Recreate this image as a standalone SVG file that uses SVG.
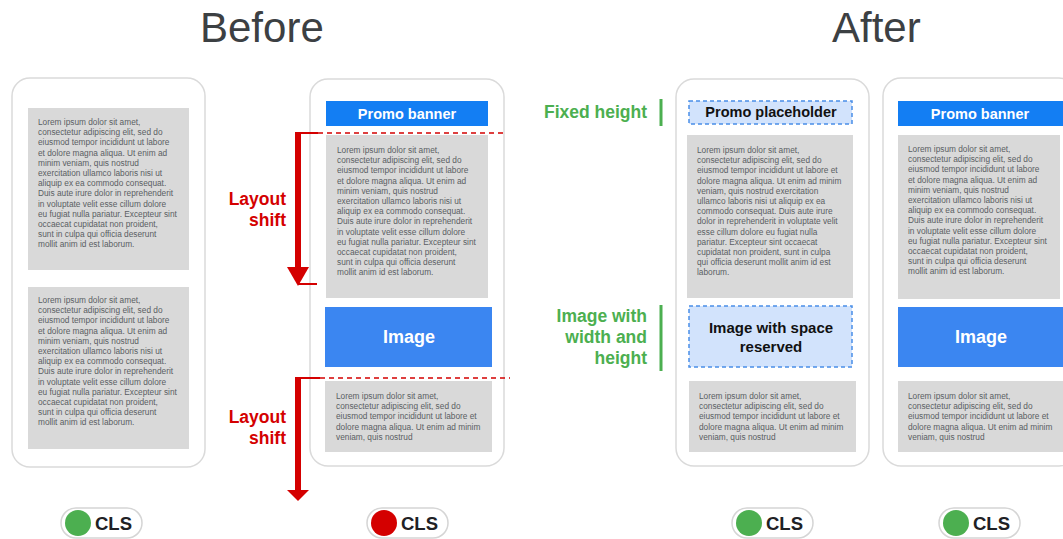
<svg xmlns="http://www.w3.org/2000/svg" width="1063" height="539" viewBox="0 0 1063 539">
<style>
.bg{fill:#ffffff}
.phone{fill:#ffffff;stroke:#dadada;stroke-width:1.5}
.gray{fill:#d9d9d9}
.lorem{font-family:"Liberation Sans",Arial,sans-serif;font-size:8.3px;fill:#5a5e63}
.title{font-family:"Liberation Sans",Arial,sans-serif;font-size:42px;fill:#3c4043}
.promo{fill:#137ef3}
.image{fill:#3b86f1}
.wlabel{font-family:"Liberation Sans",Arial,sans-serif;font-weight:bold;fill:#ffffff;text-anchor:middle}
.ph{fill:#d2e3fc;stroke:#4a8fe7;stroke-width:1.5;stroke-dasharray:4 3}
.phlabel{font-family:"Liberation Sans",Arial,sans-serif;font-weight:bold;fill:#111111;text-anchor:middle}
.red{font-family:"Liberation Sans",Arial,sans-serif;font-weight:bold;font-size:17.5px;fill:#d40000;text-anchor:end}
.green{font-family:"Liberation Sans",Arial,sans-serif;font-weight:bold;font-size:17.5px;fill:#4caf50;text-anchor:end}
.gbar{fill:#4caf50}
.pill{fill:#ffffff;stroke:#d5d5d5;stroke-width:1.5}
.cls{font-family:"Liberation Sans",Arial,sans-serif;font-weight:bold;font-size:18.5px;fill:#202124}
.arrowfill{fill:#d40000}
.solid{stroke:#d40000;stroke-width:2;fill:none}
.dash{stroke:#d40000;stroke-width:1.5;fill:none;stroke-dasharray:5 4}
</style>
<rect class="bg" x="0" y="0" width="1063" height="539"/>

<text id="title-before" class="title" x="200" y="42">Before</text>
<text id="title-after" class="title" x="832" y="42">After</text>

<g id="phone1">
  <rect class="phone" x="12" y="78" width="193" height="389" rx="18"/>
  <rect class="gray" x="28" y="108" width="161" height="162"/>
  <text class="lorem" x="38" y="125"><tspan x="38" dy="0">Lorem ipsum dolor sit amet,</tspan><tspan x="38" dy="10.2">consectetur adipiscing elit, sed do</tspan><tspan x="38" dy="10.2">eiusmod tempor incididunt ut labore</tspan><tspan x="38" dy="10.2">et dolore magna aliqua. Ut enim ad</tspan><tspan x="38" dy="10.2">minim veniam, quis nostrud</tspan><tspan x="38" dy="10.2">exercitation ullamco laboris nisi ut</tspan><tspan x="38" dy="10.2">aliquip ex ea commodo consequat.</tspan><tspan x="38" dy="10.2">Duis aute irure dolor in reprehenderit</tspan><tspan x="38" dy="10.2">in voluptate velit esse cillum dolore</tspan><tspan x="38" dy="10.2">eu fugiat nulla pariatur. Excepteur sint</tspan><tspan x="38" dy="10.2">occaecat cupidatat non proident,</tspan><tspan x="38" dy="10.2">sunt in culpa qui officia deserunt</tspan><tspan x="38" dy="10.2">mollit anim id est laborum.</tspan></text>
  <rect class="gray" x="28" y="287" width="161" height="162"/>
  <text class="lorem" x="38" y="303"><tspan x="38" dy="0">Lorem ipsum dolor sit amet,</tspan><tspan x="38" dy="10.2">consectetur adipiscing elit, sed do</tspan><tspan x="38" dy="10.2">eiusmod tempor incididunt ut labore</tspan><tspan x="38" dy="10.2">et dolore magna aliqua. Ut enim ad</tspan><tspan x="38" dy="10.2">minim veniam, quis nostrud</tspan><tspan x="38" dy="10.2">exercitation ullamco laboris nisi ut</tspan><tspan x="38" dy="10.2">aliquip ex ea commodo consequat.</tspan><tspan x="38" dy="10.2">Duis aute irure dolor in reprehenderit</tspan><tspan x="38" dy="10.2">in voluptate velit esse cillum dolore</tspan><tspan x="38" dy="10.2">eu fugiat nulla pariatur. Excepteur sint</tspan><tspan x="38" dy="10.2">occaecat cupidatat non proident,</tspan><tspan x="38" dy="10.2">sunt in culpa qui officia deserunt</tspan><tspan x="38" dy="10.2">mollit anim id est laborum.</tspan></text>
</g>

<g id="phone2">
  <rect class="phone" x="310" y="79" width="194" height="387" rx="18"/>
  <rect class="promo" x="326" y="101" width="162" height="25"/>
  <text class="wlabel" x="407" y="119" font-size="14.5">Promo banner</text>
  <rect class="gray" x="326" y="135" width="162" height="163"/>
  <text class="lorem" x="337" y="153"><tspan x="337" dy="0">Lorem ipsum dolor sit amet,</tspan><tspan x="337" dy="10.2">consectetur adipiscing elit, sed do</tspan><tspan x="337" dy="10.2">eiusmod tempor incididunt ut labore</tspan><tspan x="337" dy="10.2">et dolore magna aliqua. Ut enim ad</tspan><tspan x="337" dy="10.2">minim veniam, quis nostrud</tspan><tspan x="337" dy="10.2">exercitation ullamco laboris nisi ut</tspan><tspan x="337" dy="10.2">aliquip ex ea commodo consequat.</tspan><tspan x="337" dy="10.2">Duis aute irure dolor in reprehenderit</tspan><tspan x="337" dy="10.2">in voluptate velit esse cillum dolore</tspan><tspan x="337" dy="10.2">eu fugiat nulla pariatur. Excepteur sint</tspan><tspan x="337" dy="10.2">occaecat cupidatat non proident,</tspan><tspan x="337" dy="10.2">sunt in culpa qui officia deserunt</tspan><tspan x="337" dy="10.2">mollit anim id est laborum.</tspan></text>
  <rect class="image" x="325" y="307" width="167" height="60"/>
  <text class="wlabel" x="409" y="343" font-size="18">Image</text>
  <rect class="gray" x="325" y="381" width="167" height="71"/>
  <text class="lorem" x="336" y="399"><tspan x="336" dy="0">Lorem ipsum dolor sit amet,</tspan><tspan x="336" dy="10.2">consectetur adipiscing elit, sed do</tspan><tspan x="336" dy="10.2">eiusmod tempor incididunt ut labore et</tspan><tspan x="336" dy="10.2">dolore magna aliqua. Ut enim ad minim</tspan><tspan x="336" dy="10.2">veniam, quis nostrud</tspan></text>
</g>

<g id="phone3">
  <rect class="phone" x="676" y="79" width="193" height="387" rx="18"/>
  <rect class="ph" x="689" y="101" width="163" height="23"/>
  <text class="phlabel" x="771" y="117" font-size="14.5">Promo placeholder</text>
  <rect class="gray" x="687" y="135" width="166" height="163"/>
  <text class="lorem" x="697" y="153"><tspan x="697" dy="0">Lorem ipsum dolor sit amet,</tspan><tspan x="697" dy="10.2">consectetur adipiscing elit, sed do</tspan><tspan x="697" dy="10.2">eiusmod tempor incididunt ut labore et</tspan><tspan x="697" dy="10.2">dolore magna aliqua. Ut enim ad minim</tspan><tspan x="697" dy="10.2">veniam, quis nostrud exercitation</tspan><tspan x="697" dy="10.2">ullamco laboris nisi ut aliquip ex ea</tspan><tspan x="697" dy="10.2">commodo consequat. Duis aute irure</tspan><tspan x="697" dy="10.2">dolor in reprehenderit in voluptate velit</tspan><tspan x="697" dy="10.2">esse cillum dolore eu fugiat nulla</tspan><tspan x="697" dy="10.2">pariatur. Excepteur sint occaecat</tspan><tspan x="697" dy="10.2">cupidatat non proident, sunt in culpa</tspan><tspan x="697" dy="10.2">qui officia deserunt mollit anim id est</tspan><tspan x="697" dy="10.2">laborum.</tspan></text>
  <rect class="ph" x="689" y="306" width="163" height="61"/>
  <text class="phlabel" x="771" y="333" font-size="15"><tspan x="771" dy="0">Image with space</tspan><tspan x="771" dy="19">reserved</tspan></text>
  <rect class="gray" x="689" y="381" width="167" height="71"/>
  <text class="lorem" x="699" y="399"><tspan x="699" dy="0">Lorem ipsum dolor sit amet,</tspan><tspan x="699" dy="10.2">consectetur adipiscing elit, sed do</tspan><tspan x="699" dy="10.2">eiusmod tempor incididunt ut labore et</tspan><tspan x="699" dy="10.2">dolore magna aliqua. Ut enim ad minim</tspan><tspan x="699" dy="10.2">veniam, quis nostrud</tspan></text>
</g>

<g id="phone4">
  <rect class="phone" x="883" y="78" width="194" height="388" rx="18"/>
  <rect class="promo" x="898" y="101" width="165" height="25"/>
  <text class="wlabel" x="980" y="119" font-size="14.5">Promo banner</text>
  <rect class="gray" x="898" y="135" width="162" height="164"/>
  <text class="lorem" x="908" y="152"><tspan x="908" dy="0">Lorem ipsum dolor sit amet,</tspan><tspan x="908" dy="10.2">consectetur adipiscing elit, sed do</tspan><tspan x="908" dy="10.2">eiusmod tempor incididunt ut labore</tspan><tspan x="908" dy="10.2">et dolore magna aliqua. Ut enim ad</tspan><tspan x="908" dy="10.2">minim veniam, quis nostrud</tspan><tspan x="908" dy="10.2">exercitation ullamco laboris nisi ut</tspan><tspan x="908" dy="10.2">aliquip ex ea commodo consequat.</tspan><tspan x="908" dy="10.2">Duis aute irure dolor in reprehenderit</tspan><tspan x="908" dy="10.2">in voluptate velit esse cillum dolore</tspan><tspan x="908" dy="10.2">eu fugiat nulla pariatur. Excepteur sint</tspan><tspan x="908" dy="10.2">occaecat cupidatat non proident,</tspan><tspan x="908" dy="10.2">sunt in culpa qui officia deserunt</tspan><tspan x="908" dy="10.2">mollit anim id est laborum.</tspan></text>
  <rect class="image" x="898" y="307" width="165" height="60"/>
  <text class="wlabel" x="981" y="343" font-size="18">Image</text>
  <rect class="gray" x="898" y="381" width="165" height="71"/>
  <text class="lorem" x="908" y="399"><tspan x="908" dy="0">Lorem ipsum dolor sit amet,</tspan><tspan x="908" dy="10.2">consectetur adipiscing elit, sed do</tspan><tspan x="908" dy="10.2">eiusmod tempor incididunt ut labore et</tspan><tspan x="908" dy="10.2">dolore magna aliqua. Ut enim ad minim</tspan><tspan x="908" dy="10.2">veniam, quis nostrud</tspan></text>
</g>

<g id="label-shift1">
  <text class="red" x="286" y="205">Layout</text>
  <text class="red" x="286" y="226">shift</text>
</g>
<g id="label-shift2">
  <text class="red" x="286" y="423">Layout</text>
  <text class="red" x="286" y="444">shift</text>
</g>
<g id="label-fixed">
  <text class="green" x="647" y="118">Fixed height</text>
  <rect class="gbar" x="659.5" y="99" width="3" height="27"/>
</g>
<g id="label-image">
  <text class="green" x="647" y="322">Image with</text>
  <text class="green" x="647" y="343">width and</text>
  <text class="green" x="647" y="364">height</text>
  <rect class="gbar" x="659.5" y="305" width="3" height="66"/>
</g>

<g id="connectors">
  <line class="solid" x1="295" y1="133" x2="318" y2="133"/>
  <line class="dash" x1="318" y1="133" x2="505" y2="133"/>
  <rect class="arrowfill" x="295" y="132" width="6" height="137"/>
  <polygon class="arrowfill" points="287,267 309,267 298,286"/>
  <line class="solid" x1="298" y1="284" x2="317" y2="284" stroke-width="1.5"/>

  <line class="solid" x1="295" y1="378" x2="320" y2="378"/>
  <line class="dash" x1="320" y1="378" x2="510" y2="378"/>
  <rect class="arrowfill" x="295" y="377" width="6" height="114"/>
  <polygon class="arrowfill" points="287,490 309,490 298,501"/>
</g>

<g id="badge1">
  <rect class="pill" x="61" y="508" width="81" height="30" rx="15"/>
  <circle cx="78" cy="523" r="13" fill="#4caf50"/>
  <text class="cls" x="95" y="530">CLS</text>
</g>
<g id="badge2">
  <rect class="pill" x="367" y="508" width="81" height="30" rx="15"/>
  <circle cx="384" cy="523" r="13" fill="#d40000"/>
  <text class="cls" x="401" y="530">CLS</text>
</g>
<g id="badge3">
  <rect class="pill" x="732" y="508" width="81" height="30" rx="15"/>
  <circle cx="749" cy="523" r="13" fill="#4caf50"/>
  <text class="cls" x="766" y="530">CLS</text>
</g>
<g id="badge4">
  <rect class="pill" x="939" y="508" width="81" height="30" rx="15"/>
  <circle cx="956" cy="523" r="13" fill="#4caf50"/>
  <text class="cls" x="973" y="530">CLS</text>
</g>
</svg>
